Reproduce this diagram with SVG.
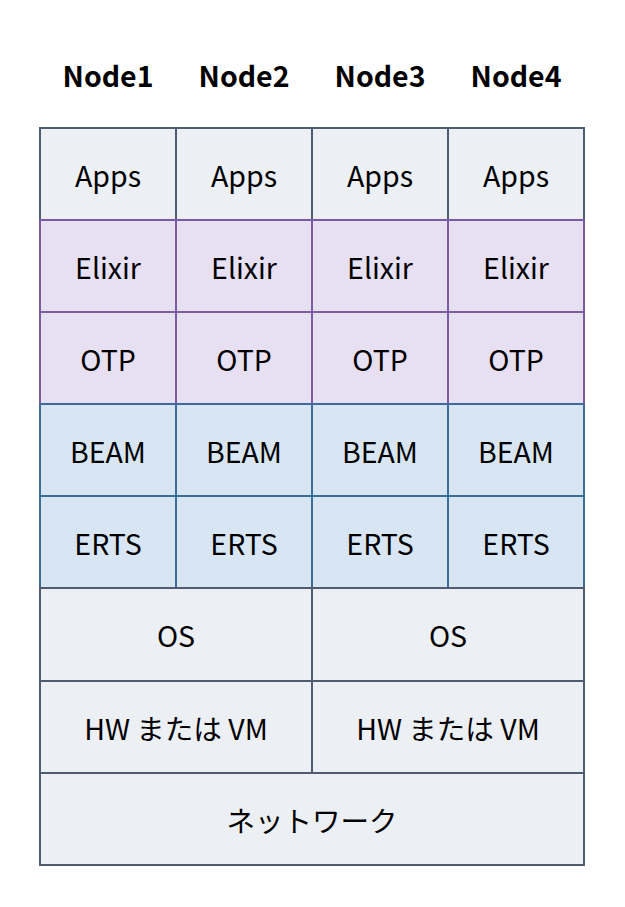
<svg xmlns="http://www.w3.org/2000/svg" width="625" height="907" viewBox="0 0 625 907">
<style>
text{font-family:"Noto Sans CJK JP","Noto Sans",sans-serif;font-size:28.5px;fill:#000;text-anchor:middle;dominant-baseline:central}
.h{font-weight:bold;font-size:28.5px}
.g rect{fill:#eceff4;stroke:#4f5b6e;stroke-width:2}
.p rect{fill:#e7dff2;stroke:#7b5ba6;stroke-width:2}
.b rect{fill:#d8e6f4;stroke:#3f6b98;stroke-width:2}
</style>
<rect width="625" height="907" fill="#fff"/>
<g id="headers">
<text class="h" x="108" y="74">Node1</text>
<text class="h" x="244" y="74">Node2</text>
<text class="h" x="380" y="74">Node3</text>
<text class="h" x="516" y="74">Node4</text>
</g>
<g id="apps" class="g">
<rect x="40" y="128" width="136" height="92"/><text x="108" y="174">Apps</text>
<rect x="176" y="128" width="136" height="92"/><text x="244" y="174">Apps</text>
<rect x="312" y="128" width="136" height="92"/><text x="380" y="174">Apps</text>
<rect x="448" y="128" width="136" height="92"/><text x="516" y="174">Apps</text>
</g>
<g id="elixir" class="p">
<rect x="40" y="220" width="136" height="92"/><text x="108" y="266">Elixir</text>
<rect x="176" y="220" width="136" height="92"/><text x="244" y="266">Elixir</text>
<rect x="312" y="220" width="136" height="92"/><text x="380" y="266">Elixir</text>
<rect x="448" y="220" width="136" height="92"/><text x="516" y="266">Elixir</text>
</g>
<g id="otp" class="p">
<rect x="40" y="312" width="136" height="92"/><text x="108" y="358">OTP</text>
<rect x="176" y="312" width="136" height="92"/><text x="244" y="358">OTP</text>
<rect x="312" y="312" width="136" height="92"/><text x="380" y="358">OTP</text>
<rect x="448" y="312" width="136" height="92"/><text x="516" y="358">OTP</text>
</g>
<g id="beam" class="b">
<rect x="40" y="404" width="136" height="92"/><text x="108" y="450">BEAM</text>
<rect x="176" y="404" width="136" height="92"/><text x="244" y="450">BEAM</text>
<rect x="312" y="404" width="136" height="92"/><text x="380" y="450">BEAM</text>
<rect x="448" y="404" width="136" height="92"/><text x="516" y="450">BEAM</text>
</g>
<g id="erts" class="b">
<rect x="40" y="496" width="136" height="92"/><text x="108" y="542">ERTS</text>
<rect x="176" y="496" width="136" height="92"/><text x="244" y="542">ERTS</text>
<rect x="312" y="496" width="136" height="92"/><text x="380" y="542">ERTS</text>
<rect x="448" y="496" width="136" height="92"/><text x="516" y="542">ERTS</text>
</g>
<g id="os" class="g">
<rect x="40" y="588" width="272" height="93"/><text x="176" y="634">OS</text>
<rect x="312" y="588" width="272" height="93"/><text x="448" y="634">OS</text>
</g>
<g id="hw" class="g">
<rect x="40" y="681" width="272" height="92"/><text x="176" y="727">HW または VM</text>
<rect x="312" y="681" width="272" height="92"/><text x="448" y="727">HW または VM</text>
</g>
<g id="network" class="g">
<rect x="40" y="773" width="544" height="92"/><text x="312" y="819">ネットワーク</text>
</g>
<g id="connectors"/>
</svg>
